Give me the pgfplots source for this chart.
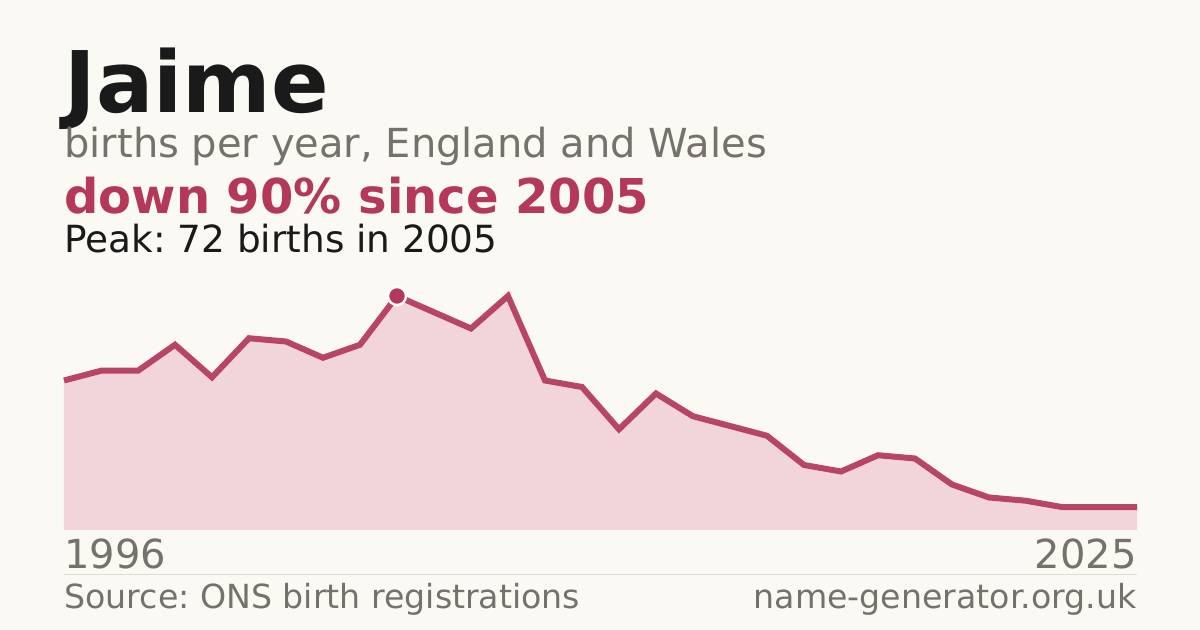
\documentclass[border=0pt]{standalone}
\usepackage{pgfplots}
\pgfplotsset{compat=1.18}
\usepackage{fontspec}
\setmainfont{DejaVu Sans}
\frenchspacing

\definecolor{bg}{HTML}{FAF9F4}
\definecolor{ink}{HTML}{1A1A1A}
\definecolor{muted}{HTML}{76716B}
\definecolor{accent}{HTML}{B3385A}
\definecolor{areafill}{HTML}{F2D5DA}
\definecolor{rule}{HTML}{DEDBD5}

\pgfplotstableread{
year births
1996 46
1997 49
1998 49
1999 57
2000 47
2001 59
2002 58
2003 53
2004 57
2005 72
2006 67
2007 62
2008 72
2009 46
2010 44
2011 31
2012 42
2013 35
2014 32
2015 29
2016 20
2017 18
2018 23
2019 22
2020 14
2021 10
2022 9
2023 7
2024 7
2025 7
}\births

\begin{document}
\begin{tikzpicture}
% page background, 1px = 0.5pt
\fill[bg] (0pt,0pt) rectangle (600pt,315pt);

% headings
\node[anchor=base west, inner sep=0, text=ink, font=\fontsize{42.5}{50}\selectfont\bfseries] at (32pt,258.5pt) {Jaime};
\node[anchor=base west, inner sep=0, text=muted, font=\fontsize{20}{24}\selectfont] at (32pt,236pt) {births per year, England and Wales};
\node[anchor=base west, inner sep=0, text=accent, font=\fontsize{24}{29}\selectfont\bfseries] at (32pt,208pt) {down 90\% since 2005};
\node[anchor=base west, inner sep=0, text=ink, font=\fontsize{18.7}{22}\selectfont] at (32pt,188.5pt) {Peak: 72 births in 2005};

\begin{axis}[
    at={(32pt,50pt)}, anchor=south west,
    scale only axis,
    width=536.5pt, height=117pt,
    xmin=1996, xmax=2025,
    ymin=0, ymax=72,
    axis lines=none,
    clip=false,
]
\addplot[draw=none, fill=areafill] table[x=year, y=births] {\births} \closedcycle;
\addplot[accent, opacity=0.92, line width=3pt, line join=miter] table[x=year, y=births] {\births};
\addplot[only marks, mark=*, mark size=4.5pt, draw=white, line width=1.2pt, fill=accent] coordinates {(2005,72)};
\end{axis}

% bottom labels and footer
\node[anchor=base west, inner sep=0, text=muted, font=\fontsize{20}{24}\selectfont] at (32pt,30.5pt) {1996};
\node[anchor=base east, inner sep=0, text=muted, font=\fontsize{20}{24}\selectfont] at (568.5pt,30.5pt) {2025};
\draw[rule, line width=0.5pt] (32pt,27.5pt) -- (568.5pt,27.5pt);
\node[anchor=base west, inner sep=0, text=muted, font=\fontsize{16.6}{20}\selectfont] at (32pt,10.5pt) {Source: ONS birth registrations};
\node[anchor=base east, inner sep=0, text=muted, font=\fontsize{16.6}{20}\selectfont] at (568.5pt,10.5pt) {name-generator.org.uk};
\end{tikzpicture}
\end{document}
